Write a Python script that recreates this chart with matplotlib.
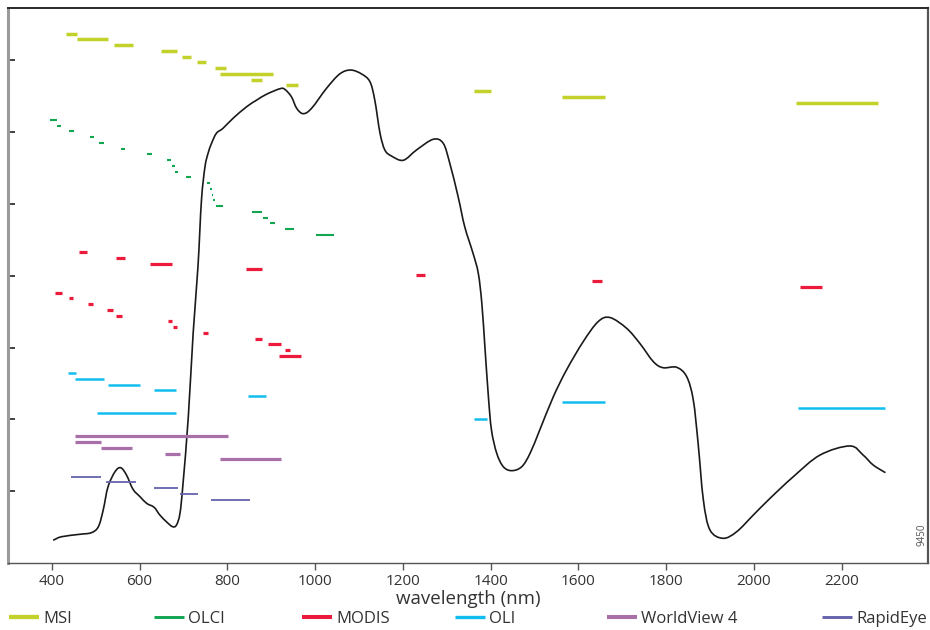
import matplotlib
matplotlib.use("Agg")
import matplotlib.pyplot as plt
import numpy as np
from matplotlib.lines import Line2D
from matplotlib.path import Path
from matplotlib.patches import PathPatch

plt.rcParams['font.family'] = ['Open Sans', 'DejaVu Sans']

# Spectral bands (start, end) in nm, listed top to bottom for each sensor
msi_bands = [(433, 458), (457, 527), (542, 584), (649, 686), (696, 718), (731, 752),
             (772, 798), (783, 905), (854, 880), (933, 960), (1363, 1401),
             (1563, 1661), (2097, 2284)]
olci_bands = [(395, 411), (411, 420), (440, 450), (487, 497), (507, 518), (557, 567),
              (617, 628), (662, 672), (673, 680), (680, 687), (706, 716), (753, 760),
              (761, 764), (764, 768), (768, 771), (774, 789), (856, 878), (882, 892),
              (897, 908), (931, 953), (1002, 1042)]
modis_bands = [(462, 481), (547, 567), (623, 673), (843, 878), (1230, 1250),
               (1630, 1654), (2105, 2155), (407, 423), (438, 448), (483, 493),
               (526, 539), (546, 559), (664, 674), (675, 685), (745, 756), (864, 879),
               (892, 922), (932, 943), (917, 968)]
oli_bands = [(436, 455), (453, 518), (528, 602), (632, 682), (847, 887), (1563, 1661),
             (2101, 2300), (503, 682), (1362, 1392)]
wv4_bands = [(452, 802), (452, 512), (512, 582), (658, 692), (783, 922)]
rapideye_bands = [(443, 512), (523, 592), (632, 687), (692, 732), (763, 852)]

sensor_names = ["MSI", "OLCI", "MODIS", "OLI", "WorldView 4", "RapidEye"]
sensor_colors = ["#c3d22b", "#12a650", "#ec1b3b", "#11bdee", "#a96fa9", "#6563ad"]
sensor_widths = [2.5, 1.5, 2.3, 1.8, 2.3, 1.3]

# Vegetation reflectance spectrum
wl = [403, 422, 464, 490, 506, 517, 528, 544, 557, 570, 585, 601, 616, 633, 646, 661,
      675, 684, 692, 699, 711, 722, 733, 741, 749, 756, 764, 775, 790, 813, 844, 867,
      889, 920, 931, 946, 958, 973, 992, 1026, 1056, 1081, 1106, 1125, 1136, 1148,
      1159, 1174, 1201, 1231, 1269, 1292, 1307, 1326, 1341, 1360, 1372, 1380, 1387,
      1395, 1402, 1414, 1429, 1448, 1471, 1490, 1512, 1543, 1573, 1611, 1645, 1672,
      1710, 1740, 1771, 1793, 1824, 1847, 1862, 1873, 1885, 1900, 1930, 1961, 1999,
      2037, 2090, 2151, 2219, 2249, 2272, 2300]
refl = [0.316, 0.366, 0.400, 0.422, 0.506, 0.738, 1.063, 1.272, 1.327, 1.226, 1.026,
        0.923, 0.831, 0.776, 0.669, 0.575, 0.506, 0.529, 0.692, 1.110, 2.038, 3.199,
        4.127, 5.056, 5.519, 5.706, 5.846, 5.985, 6.054, 6.194, 6.355, 6.448, 6.528,
        6.606, 6.597, 6.494, 6.333, 6.258, 6.333, 6.611, 6.811, 6.866, 6.811, 6.703,
        6.448, 5.985, 5.752, 5.669, 5.609, 5.752, 5.901, 5.846, 5.567, 5.102, 4.684,
        4.313, 4.034, 3.617, 3.013, 2.316, 1.852, 1.528, 1.341, 1.286, 1.341, 1.528,
        1.852, 2.316, 2.688, 3.082, 3.361, 3.419, 3.269, 3.060, 2.804, 2.720, 2.726,
        2.595, 2.270, 1.667, 0.877, 0.460, 0.344, 0.436, 0.669, 0.901, 1.202, 1.504,
        1.630, 1.504, 1.365, 1.258]

x_ticks = [400, 600, 800, 1000, 1200, 1400, 1600, 1800, 2000, 2200]


def smooth_path(xs, ys):
    """Bezier path passing through every point (Catmull-Rom tangents)."""
    pts = np.column_stack([xs, ys]).astype(float)
    n = len(pts)
    verts = [pts[0]]
    codes = [Path.MOVETO]
    for i in range(n - 1):
        p0 = pts[i - 1] if i > 0 else pts[i]
        p1 = pts[i]
        p2 = pts[i + 1]
        p3 = pts[i + 2] if i + 2 < n else pts[i + 1]
        verts += [p1 + (p2 - p0) / 6.0, p2 - (p3 - p1) / 6.0, p2]
        codes += [Path.CURVE4] * 3
    return Path(verts, codes)


W, H = 930, 630
fig = plt.figure(figsize=(W / 100, H / 100), dpi=100)
ax = fig.add_axes([8 / W, 1 - 563 / H, 920 / W, 555 / H])
ax.set_xlim(300, 2397)
ax.set_ylim(0, 7.73)

# Band rows: one row per band, two blank rows between sensors
row_top = 7.372
row_step = 0.0801
all_bands = [msi_bands, olci_bands, modis_bands, oli_bands, wv4_bands, rapideye_bands]
row = 0
for bands, color, lw in zip(all_bands, sensor_colors, sensor_widths):
    ys = [row_top - (row + i) * row_step for i in range(len(bands))]
    ax.hlines(ys, [b[0] for b in bands], [b[1] for b in bands],
              colors=color, linewidth=lw, capstyle='butt')
    row += len(bands) + 2

ax.add_patch(PathPatch(smooth_path(wl, refl), facecolor='none',
                       edgecolor="#1a1a1a", linewidth=1.2, joinstyle='round'))

ax.set_xticks(x_ticks)
ax.set_xticklabels([str(t) for t in x_ticks], fontsize=11, color="#333333")
ax.set_yticks([1, 2, 3, 4, 5, 6, 7])
ax.set_yticklabels([])
ax.tick_params(axis='x', direction='out', length=5, width=1, color="#555555", pad=3)
ax.tick_params(axis='y', direction='in', length=5, width=1.3, color="#333333")
ax.set_xlabel("wavelength (nm)", fontsize=13.5, color="#333333", labelpad=1)

ax.spines['left'].set_color("#9a9a9a")
ax.spines['left'].set_linewidth(2.2)
ax.spines['right'].set_color("#555555")
ax.spines['right'].set_linewidth(1.6)
ax.spines['top'].set_color("#2a2a2a")
ax.spines['top'].set_linewidth(1.4)
ax.spines['bottom'].set_color("#555555")
ax.spines['bottom'].set_linewidth(1.0)

ax.text(0.9935, 0.03, "9450", transform=ax.transAxes, rotation=90,
        fontsize=7, color="#555555", ha='center', va='bottom')

# Legend entries laid out along the bottom
legend_x = [9, 154, 302, 455, 607, 822]
for name, color, lw, lx in zip(sensor_names, sensor_colors, sensor_widths, legend_x):
    handle = Line2D([], [], color=color, linewidth=max(lw, 1.5) + 0.6, solid_capstyle='butt')
    leg = fig.legend([handle], [name], loc='center left',
                     bbox_to_anchor=(lx / W, 1 - 619 / H), frameon=False,
                     borderpad=0, borderaxespad=0, handlelength=1.8,
                     handletextpad=0.25, fontsize=12)
    for t in leg.get_texts():
        t.set_color("#333333")

fig.savefig("out.png", dpi=100)
